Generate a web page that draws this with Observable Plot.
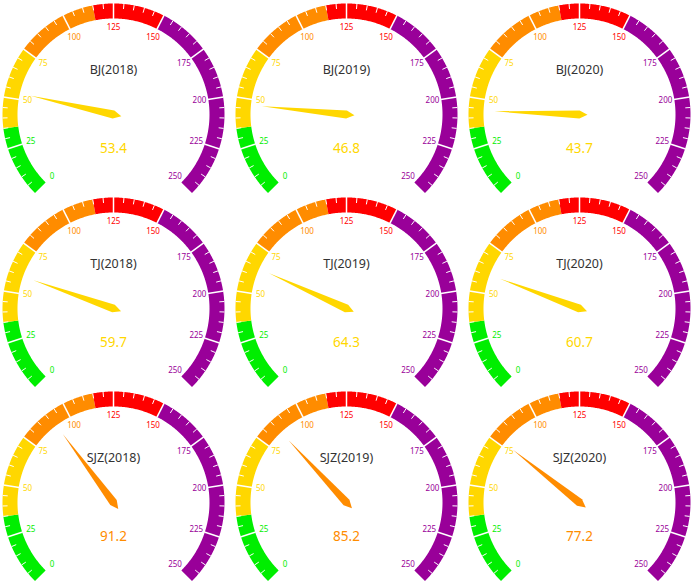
<!DOCTYPE html>
<html><head><meta charset="utf-8">
<script src="https://cdn.jsdelivr.net/npm/d3@7"></script>
<script src="https://cdn.jsdelivr.net/npm/@observablehq/plot@0.6"></script>
<style>
body{margin:0;background:#fff;}
#grid{display:grid;grid-template-columns:repeat(3,233px);grid-template-rows:repeat(3,194px);width:699px;height:582px;}
#grid svg{display:block;}
</style></head><body><div id="grid"></div>
<script>
// ---- data ----
const cities = ["BJ", "TJ", "SJZ"];
const years = ["2018", "2019", "2020"];
const bjValues = [53.4, 46.8, 43.7];
const tjValues = [59.7, 64.3, 60.7];
const sjzValues = [91.2, 85.2, 77.2];
const bandLimits = [0, 35, 75, 115, 150, 250];
const bandColors = ["#00ee00", "#ffd700", "#ff8c00", "#ff0000", "#990099"];
const tickLabels = [0, 25, 50, 75, 100, 125, 150, 175, 200, 225, 250];
const minorStep = 5;

// ---- layout ----
const W = 233, H = 194, CX = 113, CY = 114, R = 111, BAND = 15;
const AXMIN = 0, AXMAX = 250, A0 = 225, SPAN = 270;
const rad = v => (A0 - SPAN * (v - AXMIN) / (AXMAX - AXMIN)) * Math.PI / 180;
const px = (v, r) => CX + r * Math.cos(rad(v));
const py = (v, r) => CY - r * Math.sin(rad(v));
const colorOf = v => { for (let i = 1; i < bandLimits.length; i++) if (v <= bandLimits[i]) return bandColors[i - 1]; return bandColors[bandColors.length - 1]; };

function bandShape(a, b) {
  const n = Math.max(4, Math.ceil((b - a) / 0.5));
  const pts = [];
  for (let i = 0; i <= n; i++) { const v = a + (b - a) * i / n; pts.push({x: px(v, R), y: py(v, R)}); }
  for (let i = n; i >= 0; i--) { const v = a + (b - a) * i / n; pts.push({x: px(v, R - BAND), y: py(v, R - BAND)}); }
  return pts;
}

function needleShape(v) {
  const a = rad(v), L = 85, w = 4;
  const ux = Math.cos(a), uy = -Math.sin(a);
  const nx = -uy, ny = ux;
  return [
    {x: CX - ux * 2 * w, y: CY - uy * 2 * w},
    {x: CX + nx * w, y: CY + ny * w},
    {x: CX + ux * L, y: CY + uy * L},
    {x: CX - nx * w, y: CY - ny * w}
  ];
}

function gauge(title, value) {
  const marks = [];
  for (let i = 0; i < bandColors.length; i++) {
    marks.push(Plot.line(bandShape(bandLimits[i], bandLimits[i + 1]), {x: "x", y: "y", fill: bandColors[i], stroke: "none"}));
  }
  const minors = d3.range(AXMIN, AXMAX + 0.001, minorStep).filter(v => v % 25 !== 0);
  marks.push(Plot.link(minors, {x1: v => px(v, R), y1: v => py(v, R), x2: v => px(v, R - 5), y2: v => py(v, R - 5), stroke: "white", strokeWidth: 1}));
  const splits = tickLabels.filter(v => v > AXMIN && v < AXMAX);
  marks.push(Plot.link(splits, {x1: v => px(v, R + 0.5), y1: v => py(v, R + 0.5), x2: v => px(v, R - BAND - 0.5), y2: v => py(v, R - BAND - 0.5), stroke: "white", strokeWidth: 1.5}));
  marks.push(Plot.text(tickLabels, {x: v => px(v, 87), y: v => py(v, 87), text: v => String(v), fill: v => colorOf(v), fontSize: 8}));
  marks.push(Plot.line(needleShape(value), {x: "x", y: "y", fill: colorOf(value), stroke: "none"}));
  marks.push(Plot.text([title], {x: () => CX, y: () => CY - 45, text: d => d, fill: "#333", fontSize: 12.5}));
  marks.push(Plot.text([value], {x: () => CX, y: () => CY + 34, text: d => d.toFixed(1), fill: d => colorOf(d), fontSize: 13.5}));
  return Plot.plot({
    width: W, height: H, margin: 0,
    x: {domain: [0, W], range: [0, W], axis: null},
    y: {domain: [0, H], range: [0, H], axis: null},
    color: {type: "identity"},
    style: {fontFamily: "'Noto Sans', sans-serif", background: "white", overflow: "visible"},
    marks
  });
}

const grid = document.getElementById("grid");
const valueRows = [bjValues, tjValues, sjzValues];
cities.forEach((c, i) => years.forEach((y, j) => grid.appendChild(gauge(`${c}(${y})`, valueRows[i][j]))));
</script></body></html>
